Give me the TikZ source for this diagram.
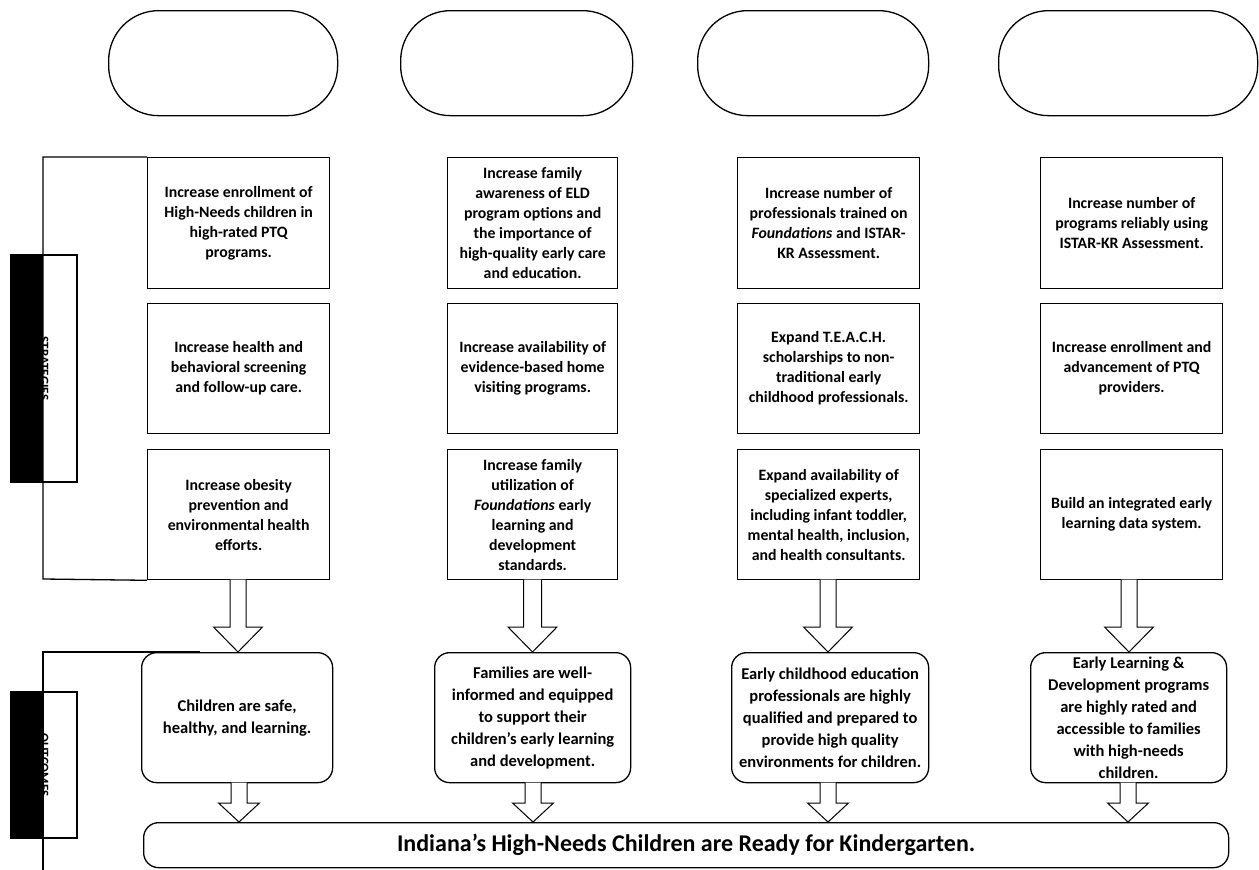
\documentclass[tikz,border=0pt]{standalone}
\usepackage{fontspec}
\setmainfont{Carlito}
\usetikzlibrary{calc}
\tikzset{
  every picture/.style={x=1pt,y=-1pt},
  ln/.style={line width=1.3pt,black},
  sbox/.style={draw,ln,fill=white,align=center,inner sep=0pt,anchor=north west,
    font=\bfseries\fontsize{15.8}{20}\selectfont},
  obox/.style={draw,ln,fill=white,align=center,inner sep=0pt,anchor=north west,
    rounded corners=15pt,font=\bfseries\fontsize{16.5}{22}\selectfont},
  stadium/.style={draw,ln,anchor=north west,rounded corners=50pt,inner sep=0pt},
  barrow/.style={draw,line width=1pt,fill=white,line join=miter},
  sidelabel/.style={rotate=-90,font=\bfseries\fontsize{13}{13}\selectfont,inner sep=0pt}
}
\newcommand\BoxAt[7]{% style, name, x1, y1, x2, y2, text
  \node[#1,minimum width={(#5-#3)*1pt},minimum height={(#6-#4)*1pt}] (#2) at (#3,#4) {#7};}
\newcommand\BlkArrow[6]{% cx, ytop, ybase, ytip, shaft half, head half
  \draw[barrow] (#1-#5,#2) -- (#1-#5,#3) -- (#1-#6,#3) -- (#1,#4) -- (#1+#6,#3) -- (#1+#5,#3) -- (#1+#5,#2);}
\begin{document}
\begin{tikzpicture}
\useasboundingbox (0,0) rectangle (1259,870);
% top stadiums
\BoxAt{stadium}{e1}{108}{10}{337}{115}{}
\BoxAt{stadium}{e2}{400}{10}{632}{115}{}
\BoxAt{stadium}{e3}{697}{10}{928}{115}{}
\BoxAt{stadium}{e4}{998}{10}{1257}{115}{}
% strategies bracket
\coordinate (sbt) at (43,157);
\coordinate (sbb) at (43,579);
% strategy boxes
\BoxAt{sbox}{s11}{147}{157}{329}{288}{Increase enrollment of\\High-Needs children in\\high-rated PTQ\\programs.}
\BoxAt{sbox}{s12}{147}{303}{329}{433}{Increase health and\\behavioral screening\\and follow-up care.}
\BoxAt{sbox}{s13}{147}{449}{329}{579}{Increase obesity\\prevention and\\environmental health\\efforts.}
\BoxAt{sbox}{s21}{447}{157}{617}{288}{Increase family\\awareness of ELD\\program options and\\the importance of\\high-quality early care\\and education.}
\BoxAt{sbox}{s22}{447}{303}{617}{433}{Increase availability of\\evidence-based home\\visiting programs.}
\BoxAt{sbox}{s23}{447}{449}{617}{579}{Increase family\\utilization of\\\textit{Foundations} early\\learning and\\development\\standards.}
\BoxAt{sbox}{s31}{737}{157}{919}{288}{Increase number of\\professionals trained on\\\textit{Foundations} and ISTAR-\\KR Assessment.}
\BoxAt{sbox}{s32}{737}{303}{919}{433}{Expand T.E.A.C.H.\\scholarships to non-\\traditional early\\childhood professionals.}
\BoxAt{sbox}{s33}{737}{449}{919}{579}{Expand availability of\\specialized experts,\\including infant toddler,\\mental health, inclusion,\\and health consultants.}
\BoxAt{sbox}{s41}{1040}{157}{1222}{288}{Increase number of\\programs reliably using\\ISTAR-KR Assessment.}
\BoxAt{sbox}{s42}{1040}{303}{1222}{433}{Increase enrollment and\\advancement of PTQ\\providers.}
\BoxAt{sbox}{s43}{1040}{449}{1222}{579}{Build an integrated early\\learning data system.}
\draw[ln] (s11.north west) -- (sbt) -- (sbb) -- (s13.south west);
% strategies label
\node[sidelabel] (slab) at (44,368.5) {STRATEGIES};
\fill[black] (11,255) rectangle (43,482);
\draw[ln] (11,255) rectangle (77,482);
% outcomes bracket line
\coordinate (obt) at (43,652);
\coordinate (obb) at (43,872);
\draw[ln] (obb) -- (obt) -- (200,652);
% outcome boxes
\BoxAt{obox}{o1}{141}{652}{332}{782}{Children are safe,\\healthy, and learning.}
\BoxAt{obox}{o2}{434}{652}{630}{782}{Families are well-\\informed and equipped\\to support their\\children’s early learning\\and development.}
\BoxAt{obox}{o3}{731}{652}{928}{782}{Early childhood education\\professionals are highly\\qualified and prepared to\\provide high quality\\environments for children.}
\BoxAt{obox}{o4}{1030}{652}{1226}{782}{Early Learning \&\\Development programs\\are highly rated and\\accessible to families\\with high-needs\\children.}
% outcomes label
\node[sidelabel] (olab) at (44,765) {OUTCOMES};
\fill[black] (11,692) rectangle (43,838);
\draw[ln] (11,692) rectangle (77,838);
% final box
\BoxAt{obox}{fin}{143}{822}{1228}{867}{}
\node[font=\bfseries\fontsize{24}{28}\selectfont] (fint) at (fin.center) {Indiana’s High-Needs Children are Ready for Kindergarten.};
% block arrows strategies -> outcomes
\BlkArrow{238}{579.6}{627}{652}{8}{24.5}
\BlkArrow{532.5}{579.6}{627}{652}{9}{24.5}
\BlkArrow{828}{579.6}{627}{652}{8}{24.5}
\BlkArrow{1129}{579.6}{627}{652}{8}{24.5}
% block arrows outcomes -> final
\BlkArrow{239}{782.6}{803}{822}{8}{20.5}
\BlkArrow{533}{782.6}{803}{822}{8}{20.5}
\BlkArrow{828}{782.6}{803}{822}{8}{20.5}
\BlkArrow{1128}{782.6}{803}{822}{8}{20.5}
\end{tikzpicture}
\end{document}
